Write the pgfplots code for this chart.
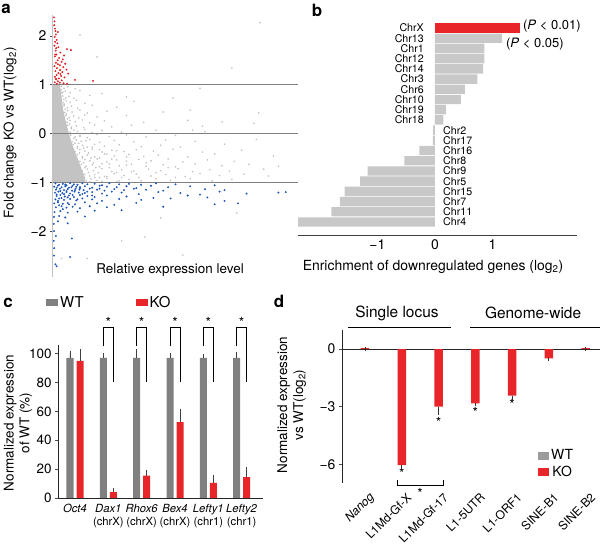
\documentclass[border=0pt]{standalone}
\usepackage{fontspec}
\setmainfont{TeX Gyre Heros}
\usepackage{pgfplots}
\pgfplotsset{compat=1.18}

\definecolor{ptgray}{RGB}{195,195,195}
\definecolor{ptblue}{RGB}{30,85,185}
\definecolor{ptred}{RGB}{232,32,38}
\definecolor{refline}{RGB}{128,128,128}
\definecolor{bargray}{RGB}{200,200,200}
\definecolor{kored}{RGB}{232,38,42}
\definecolor{wtgray}{RGB}{128,128,128}
\definecolor{wtpale}{RGB}{155,155,155}

\newcommand\fs[2]{\fontsize{#1}{#2}\selectfont}

\pgfplotsset{
  every axis/.append style={/pgf/number format/assume math mode=true},
  panelaxis/.style={scale only axis, anchor=south west,
    axis line style={line width=0.8bp, black!85},
    tick style={line width=0.7bp, black!70}},
}

\begin{document}
\begin{tikzpicture}
\path[use as bounding box] (0bp,0bp) rectangle (600bp,545bp);

% ---------------- a: scatter ----------------
\begin{axis}[panelaxis,
  at={(53bp,268bp)}, width=245bp, height=262bp,
  xmin=0, xmax=1, ymin=-2.94, ymax=2.43,
  axis lines*=left,
  x axis line style={draw=none}, y axis line style={draw=ptgray, line width=1bp},
  xtick=\empty, ytick={-2,-1,0,1,2}, yticklabels={−2,−1,0,1,2},
  tick align=outside, major tick length=3bp,
  yticklabel style={font=\fs{14}{16}},
  xlabel={Relative expression level},
  ylabel={Fold change KO vs WT(log\textsubscript{2})},
  every axis x label/.style={at={(axis description cs:0.478,0.027)}, anchor=center, font=\fs{13.5}{16}},
  every axis y label/.style={at={(axis description cs:-0.175,0.55)}, rotate=90, anchor=center, font=\fs{13.5}{16}},
]
% dense core of unchanged genes
\addplot[fill=ptgray, draw=none] coordinates {
  (0,1) (0.029,1) (0.035,0.75) (0.041,0.5) (0.052,0.25) (0.065,0) (0.08,-0.25)
  (0.1,-0.5) (0.118,-0.75) (0.13,-0.9) (0.13,-1) (0,-1)} -- cycle;
% unchanged genes, sparse part
\addplot[only marks, mark=*, mark size=0.6bp, color=ptgray] coordinates {
  (0.035,0.97) (0.045,0.93) (0.06,0.96) (0.09,0.92)
  (0.036,0.83) (0.05,0.87) (0.07,0.84) (0.11,0.88) (0.2,0.82)
  (0.04,0.77) (0.052,0.73) (0.065,0.76) (0.085,0.72) (0.15,0.78)
  (0.042,0.63) (0.055,0.67) (0.07,0.64) (0.095,0.68) (0.13,0.62) (0.33,0.66)
  (0.045,0.57) (0.058,0.53) (0.075,0.56) (0.1,0.52) (0.16,0.58) (0.26,0.54)
  (0.048,0.43) (0.06,0.47) (0.078,0.44) (0.11,0.48) (0.14,0.42) (0.22,0.46) (0.45,0.44)
  (0.052,0.37) (0.066,0.33) (0.085,0.36) (0.105,0.32) (0.13,0.38) (0.18,0.34) (0.3,0.37)
  (0.057,0.23) (0.07,0.27) (0.09,0.24) (0.12,0.28) (0.15,0.22) (0.21,0.26) (0.37,0.23) (0.55,0.27)
  (0.06,0.17) (0.075,0.13) (0.095,0.16) (0.125,0.12) (0.17,0.18) (0.24,0.14) (0.32,0.17)
  (0.07,0.03) (0.085,0.07) (0.1,0.04) (0.13,0.08) (0.16,0.02) (0.2,0.06) (0.28,0.03) (0.42,0.07) (0.62,0.04)
  (0.072,-0.03) (0.09,-0.07) (0.11,-0.04) (0.14,-0.08) (0.18,-0.02) (0.23,-0.06) (0.3,-0.03) (0.38,-0.07) (0.5,-0.04)
  (0.078,-0.17) (0.095,-0.13) (0.115,-0.16) (0.15,-0.12) (0.19,-0.18) (0.25,-0.14) (0.33,-0.17) (0.46,-0.13) (0.58,-0.16) (0.83,-0.12)
  (0.082,-0.23) (0.1,-0.27) (0.12,-0.24) (0.14,-0.28) (0.17,-0.22) (0.21,-0.26) (0.27,-0.23) (0.36,-0.27) (0.44,-0.24) (0.52,-0.28) (0.7,-0.22)
  (0.09,-0.37) (0.11,-0.33) (0.13,-0.36) (0.16,-0.32) (0.2,-0.38) (0.24,-0.34) (0.29,-0.37) (0.34,-0.33) (0.41,-0.36) (0.49,-0.32) (0.61,-0.38) (0.77,-0.34)
  (0.1,-0.43) (0.12,-0.47) (0.14,-0.44) (0.17,-0.48) (0.21,-0.42) (0.25,-0.46) (0.31,-0.43) (0.37,-0.47) (0.43,-0.44) (0.55,-0.48) (0.66,-0.42) (0.9,-0.46)
  (0.11,-0.57) (0.13,-0.53) (0.15,-0.56) (0.18,-0.52) (0.22,-0.58) (0.26,-0.54) (0.3,-0.57) (0.35,-0.53) (0.4,-0.56) (0.47,-0.52) (0.53,-0.58) (0.63,-0.54) (0.74,-0.57)
  (0.115,-0.63) (0.135,-0.67) (0.16,-0.64) (0.19,-0.68) (0.23,-0.62) (0.27,-0.66) (0.32,-0.63) (0.38,-0.67) (0.45,-0.64) (0.5,-0.68) (0.58,-0.62) (0.69,-0.66) (0.8,-0.63) (0.92,-0.67)
  (0.12,-0.77) (0.14,-0.73) (0.165,-0.76) (0.2,-0.72) (0.24,-0.78) (0.28,-0.74) (0.33,-0.77) (0.39,-0.73) (0.44,-0.76) (0.51,-0.72) (0.57,-0.78) (0.64,-0.74) (0.72,-0.77) (0.86,-0.73)
  (0.13,-0.83) (0.15,-0.87) (0.17,-0.84) (0.21,-0.88) (0.25,-0.82) (0.29,-0.86) (0.34,-0.83) (0.4,-0.87) (0.46,-0.84) (0.54,-0.88) (0.6,-0.82) (0.68,-0.86) (0.78,-0.83) (0.88,-0.87)
  (0.135,-0.97) (0.155,-0.93) (0.18,-0.96) (0.22,-0.92) (0.26,-0.98) (0.31,-0.94) (0.36,-0.97) (0.42,-0.93) (0.48,-0.96) (0.56,-0.92) (0.65,-0.97) (0.73,-0.94)
  (0.105,-0.2) (0.125,-0.3) (0.145,-0.4) (0.155,-0.5) (0.165,-0.6) (0.175,-0.7) (0.185,-0.8) (0.19,-0.9) (0.2,-0.98)
  (0.15,-0.99) (0.17,-0.9) (0.145,-0.8) (0.13,-0.7) (0.125,-0.6) (0.12,-0.5) (0.108,-0.4) (0.1,-0.3) (0.09,-0.2)
  (0.085,-0.1) (0.075,0.1) (0.068,0.2) (0.06,0.3) (0.055,0.4) (0.05,0.5) (0.046,0.6) (0.044,0.7) (0.04,0.85) (0.034,0.9)
  (0.2,-0.62) (0.23,-0.7) (0.26,-0.8) (0.28,-0.9) (0.24,-0.52) (0.22,-0.88) (0.3,-0.65) (0.32,-0.78) (0.35,-0.9)
  (0.27,-0.97) (0.19,-0.5) (0.16,-0.28) (0.135,-0.15) (0.11,-0.06) (0.19,-0.33) (0.22,-0.42) (0.26,-0.35) (0.3,-0.48)
  (0.38,-0.6) (0.42,-0.8) (0.5,-0.9) (0.47,-0.7)
  (0.845,2.27) (0.11,2.02) (0.18,1.57) (0.73,1.34) (0.6,0.93) (0.3,0.75) (0.49,0.73) (0.56,0.48)
  (0.69,0.24) (0.82,0.21) (0.61,0.15) (0.84,0.42) (0.57,0.07)
  (0.75,-1.63) (0.44,-1.73) (0.375,-2.12) (0.28,-2.2) (0.53,-2.49) (0.14,-2.56) (0.035,-2.56)};
% downregulated genes
\addplot[only marks, mark=*, mark size=0.75bp, color=ptblue] coordinates {
  (0.01,-1.02) (0.025,-1.05) (0.04,-1.03) (0.055,-1.06) (0.07,-1.02) (0.085,-1.04) (0.1,-1.05) (0.12,-1.02) (0.14,-1.04)
  (0.17,-1.03) (0.2,-1.06) (0.23,-1.02) (0.27,-1.04) (0.31,-1.03) (0.36,-1.05) (0.42,-1.02) (0.5,-1.04)
  (0.005,-1.09) (0.02,-1.07) (0.035,-1.1) (0.05,-1.08) (0.065,-1.11) (0.08,-1.07) (0.095,-1.09) (0.11,-1.1) (0.13,-1.08)
  (0.16,-1.11) (0.19,-1.07) (0.22,-1.09) (0.26,-1.1) (0.3,-1.08) (0.34,-1.12) (0.4,-1.07) (0.47,-1.1) (0.56,-1.08) (0.66,-1.06)
  (0.012,-1.15) (0.028,-1.13) (0.045,-1.16) (0.06,-1.14) (0.078,-1.17) (0.092,-1.13) (0.108,-1.15) (0.125,-1.16) (0.15,-1.13)
  (0.18,-1.15) (0.21,-1.17) (0.25,-1.14) (0.29,-1.16) (0.33,-1.13) (0.38,-1.15) (0.45,-1.17) (0.62,-1.14) (0.7,-1.16)
  (0.008,-1.21) (0.022,-1.19) (0.038,-1.22) (0.055,-1.2) (0.07,-1.23) (0.088,-1.19) (0.105,-1.21) (0.13,-1.22) (0.16,-1.2)
  (0.2,-1.23) (0.24,-1.19) (0.28,-1.21) (0.35,-1.24) (0.43,-1.2) (0.52,-1.22) (0.6,-1.25) (0.68,-1.19) (0.79,-1.23) (0.92,-1.21) (0.95,-1.2)
  (0.015,-1.28) (0.03,-1.26) (0.048,-1.29) (0.065,-1.27) (0.085,-1.3) (0.11,-1.26) (0.14,-1.28) (0.17,-1.3) (0.22,-1.27)
  (0.3,-1.29) (0.41,-1.32) (0.55,-1.27) (0.63,-1.31)
  (0.01,-1.35) (0.025,-1.33) (0.045,-1.36) (0.07,-1.34) (0.095,-1.37) (0.12,-1.33) (0.16,-1.35) (0.2,-1.38) (0.27,-1.34)
  (0.36,-1.36) (0.48,-1.33) (0.7,-1.38)
  (0.005,-1.43) (0.02,-1.41) (0.04,-1.44) (0.06,-1.42) (0.09,-1.45) (0.13,-1.41) (0.18,-1.43) (0.25,-1.46) (0.34,-1.42) (0.66,-1.45) (0.755,-1.43)
  (0.012,-1.51) (0.035,-1.49) (0.055,-1.52) (0.08,-1.5) (0.11,-1.53) (0.15,-1.49) (0.22,-1.51) (0.45,-1.5)
  (0.006,-1.61) (0.03,-1.59) (0.06,-1.62) (0.1,-1.6) (0.17,-1.58) (0.28,-1.57)
  (0.004,-1.71) (0.025,-1.69) (0.05,-1.72) (0.13,-1.7)
  (0.003,-1.85) (0.02,-1.8) (0.06,-1.84) (0.004,-2.0) (0.012,-2.1) (0.003,-2.2) (0.077,-2.15) (0.005,-2.35)
  (0.004,-2.5) (0.07,-2.53) (0.01,-2.68) (0.015,-2.72)
  (0.015,-1.11) (0.03,-1.18) (0.045,-1.24) (0.06,-1.31) (0.02,-1.38) (0.075,-1.1) (0.09,-1.16) (0.05,-1.04)
  (0.035,-1.32) (0.08,-1.26) (0.1,-1.35) (0.065,-1.45) (0.04,-1.55) (0.025,-1.47) (0.015,-1.25) (0.055,-1.18)
  (0.11,-1.12) (0.14,-1.19) (0.12,-1.24) (0.16,-1.27) (0.19,-1.13)};
% upregulated genes
\addplot[only marks, mark=*, mark size=0.75bp, color=ptred] coordinates {
  (0.004,2.38) (0.006,2.3) (0.005,2.22) (0.008,2.15) (0.01,2.1) (0.02,2.08) (0.012,2.03) (0.007,1.98)
  (0.015,1.92) (0.009,1.88) (0.018,1.85) (0.006,1.8) (0.022,1.77) (0.057,1.73) (0.073,1.71) (0.011,1.7)
  (0.03,1.66) (0.014,1.62) (0.045,1.6) (0.008,1.58) (0.025,1.55) (0.04,1.52) (0.019,1.5) (0.035,1.47)
  (0.012,1.45) (0.05,1.43) (0.028,1.4) (0.006,1.38) (0.042,1.36) (0.016,1.34) (0.029,1.3) (0.055,1.31)
  (0.01,1.28) (0.038,1.26) (0.022,1.24) (0.062,1.23) (0.015,1.2) (0.033,1.18) (0.008,1.16) (0.047,1.15)
  (0.024,1.13) (0.013,1.11) (0.09,1.1) (0.036,1.09) (0.02,1.07) (0.163,1.08) (0.007,1.05) (0.028,1.04)
  (0.043,1.03) (0.016,1.02) (0.058,1.02) (0.012,1.12) (0.03,1.22) (0.02,1.42) (0.009,1.62) (0.013,1.75)};
\addplot[refline, line width=1.1bp] coordinates {(0,1) (1,1)};
\addplot[refline, line width=1.1bp] coordinates {(0,0) (1,0)};
\addplot[refline, line width=1.1bp] coordinates {(0,-1) (1,-1)};
\end{axis}

% ---------------- b: enrichment by chromosome ----------------
\begin{axis}[panelaxis,
  at={(298bp,309bp)}, width=279bp, height=214bp,
  xmin=-2.38, xmax=2.47, ymin=-1.37, ymax=19.59,
  axis x line*=bottom, axis y line=none,
  x axis line style={line width=1bp, black!75},
  xtick={-1,0,1}, xticklabels={−1,0,1}, ytick=\empty,
  major tick length=0pt,
  xticklabel style={font=\fs{14}{16}},
  xlabel={Enrichment of downregulated genes (log\textsubscript{2})},
  every axis x label/.style={at={(axis description cs:0.484,-0.145)}, anchor=center, font=\fs{14}{16}},
  clip=false,
]
\addplot[xbar, bar width=9.4bp, bar shift=0pt, fill=kored, draw=none] coordinates {(1.48,19)};
\addplot[xbar, bar width=9.4bp, bar shift=0pt, fill=bargray, draw=none] coordinates {
  (1.17,18) (0.86,17) (0.86,16) (0.84,15) (0.74,14) (0.52,13) (0.45,12) (0.19,11) (0.145,10)
  (-0.03,9) (-0.035,8) (-0.27,7) (-0.53,6) (-1.17,5) (-1.30,4) (-1.57,3) (-1.65,2) (-1.80,1) (-2.38,0)};
\begin{scope}[every node/.style={inner sep=0pt, font=\fs{10.7}{12}}]
\node[anchor=east] at (axis cs:-0.19,19) {ChrX};
\node[anchor=east] at (axis cs:-0.19,18) {Chr13};
\node[anchor=east] at (axis cs:-0.19,17) {Chr1};
\node[anchor=east] at (axis cs:-0.19,16) {Chr12};
\node[anchor=east] at (axis cs:-0.19,15) {Chr14};
\node[anchor=east] at (axis cs:-0.19,14) {Chr3};
\node[anchor=east] at (axis cs:-0.19,13) {Chr6};
\node[anchor=east] at (axis cs:-0.19,12) {Chr10};
\node[anchor=east] at (axis cs:-0.19,11) {Chr19};
\node[anchor=east] at (axis cs:-0.19,10) {Chr18};
\node[anchor=west] at (axis cs:0.14,9) {Chr2};
\node[anchor=west] at (axis cs:0.14,8) {Chr17};
\node[anchor=west] at (axis cs:0.14,7) {Chr16};
\node[anchor=west] at (axis cs:0.14,6) {Chr8};
\node[anchor=west] at (axis cs:0.14,5) {Chr9};
\node[anchor=west] at (axis cs:0.14,4) {Chr5};
\node[anchor=west] at (axis cs:0.14,3) {Chr15};
\node[anchor=west] at (axis cs:0.14,2) {Chr7};
\node[anchor=west] at (axis cs:0.14,1) {Chr11};
\node[anchor=west] at (axis cs:0.14,0) {Chr4};
\end{scope}
\node[anchor=west, inner sep=0pt, font=\fs{13}{15}] at (axis cs:1.53,19.2) {(\textit{P} < 0.01)};
\node[anchor=west, inner sep=0pt, font=\fs{13}{15}] at (axis cs:1.235,17.45) {(\textit{P} < 0.05)};
\end{axis}

% ---------------- c: qPCR, % of WT ----------------
\begin{axis}[panelaxis,
  at={(58bp,47bp)}, width=205bp, height=153bp,
  xmin=0.49, xmax=6.64, ymin=0, ymax=106,
  axis lines*=left, clip=false,
  ytick={0,20,40,60,80,100},
  xtick={1,2,3,4,5,6},
  xticklabels={\textit{Oct4}, {\textit{Dax1}\\(chrX)}, {\textit{Rhox6}\\(chrX)}, {\textit{Bex4}\\(chrX)}, {\textit{Lefty1}\\(chr1)}, {\textit{Lefty2}\\(chr1)}},
  xticklabel style={align=center, font=\fs{11.3}{13}},
  yticklabel style={font=\fs{13.5}{16}},
  xtick style={draw=none}, tick align=outside, major tick length=3bp,
  ylabel={Normalized expression\\of WT (\%)},
  every axis y label/.style={at={(axis description cs:-0.195,0.49)}, rotate=90, anchor=center, align=center, font=\fs{13.5}{16}},
  ybar, bar width=7bp,
  legend columns=2,
  legend image code/.code={\fill[#1] (0bp,-3.5bp) rectangle (12bp,3.5bp);},
  legend style={draw=none, fill=none, at={(axis description cs:-0.073,1.275)}, anchor=west,
    font=\fs{15}{17}, /tikz/every even column/.append style={column sep=50bp}},
]
\addplot[fill=wtgray, draw=none, bar shift=-5bp,
  error bars/.cd, y dir=plus, y explicit,
  error bar style={line width=0.8bp, black!75}, error mark options={line width=0.8bp, black!75, mark size=2bp}]
  coordinates {(1,97) +- (0,3.5) (2,97) +- (0,2) (3,97) +- (0,5) (4,97) +- (0,2) (5,97) +- (0,1.2) (6,97) +- (0,3)};
\addlegendentry{WT}
\addplot[fill=kored, draw=none, bar shift=5bp,
  error bars/.cd, y dir=plus, y explicit,
  error bar style={line width=0.8bp, black!75}, error mark options={line width=0.8bp, black!75, mark size=2bp}]
  coordinates {(1,95) +- (0,7) (2,4) +- (0,1.5) (3,15.5) +- (0,2.3) (4,52.5) +- (0,8) (5,10.5) +- (0,4) (6,14.5) +- (0,5.5)};
\addlegendentry{KO}
\draw[line width=0.7bp] (axis cs:1.85,105) -- (axis cs:1.85,118) -- (axis cs:2.15,118) -- (axis cs:2.15,80.5);
\draw[line width=0.7bp] (axis cs:2.85,105) -- (axis cs:2.85,118) -- (axis cs:3.15,118) -- (axis cs:3.15,80.5);
\draw[line width=0.7bp] (axis cs:3.85,105) -- (axis cs:3.85,118) -- (axis cs:4.15,118) -- (axis cs:4.15,80.5);
\draw[line width=0.7bp] (axis cs:4.85,105) -- (axis cs:4.85,118) -- (axis cs:5.15,118) -- (axis cs:5.15,80.5);
\draw[line width=0.7bp] (axis cs:5.85,105) -- (axis cs:5.85,118) -- (axis cs:6.15,118) -- (axis cs:6.15,80.5);
\begin{scope}[every node/.style={font=\fs{14}{15}, inner sep=0pt}]
\node at (axis cs:2,121.5) {*};
\node at (axis cs:3,121.5) {*};
\node at (axis cs:4,121.5) {*};
\node at (axis cs:5,121.5) {*};
\node at (axis cs:6,121.5) {*};
\end{scope}
\end{axis}

% ---------------- d: transposable elements, log2 ----------------
\begin{axis}[panelaxis,
  at={(342bp,62bp)}, width=258bp, height=153bp,
  xmin=-0.625, xmax=6.39, ymin=-6.98, ymax=0.99,
  axis lines*=left, clip=false,
  x axis line style={draw=none},
  ytick={-6,-3,0}, yticklabels={−6,−3,0},
  xtick={0,1,2,3,4,5,6},
  xticklabels={\textit{Nanog}, L1Md-Gf-X, L1Md-Gf-17, L1-5UTR, L1-ORF1, SINE-B1, SINE-B2},
  xticklabel style={rotate=45, anchor=east, yshift=-12bp, xshift=2bp, font=\fs{12}{14}},
  yticklabel style={font=\fs{14}{16}},
  xtick style={draw=none}, tick align=outside, major tick length=3bp,
  ylabel={Normalized expression\\vs WT(log\textsubscript{2})},
  every axis y label/.style={at={(axis description cs:-0.195,0.51)}, rotate=90, anchor=center, align=center, font=\fs{13.5}{16}},
  ybar, bar width=8.5bp,
  legend image code/.code={\fill[#1] (0bp,-4bp) rectangle (11bp,4bp);},
  legend style={draw=none, fill=none, at={(axis description cs:0.748,0.245)}, anchor=north west,
    font=\fs{14}{16}, row sep=1bp},
]
\draw[line width=0.8bp, black!85] (axis cs:-0.625,0) -- (axis cs:6.39,0);
\addlegendimage{fill=wtpale, draw=none}
\addlegendentry{WT}
\addplot[fill=kored, draw=none, bar shift=0pt,
  error bars/.cd, y dir=minus, y explicit,
  error bar style={line width=0.8bp, black!80}, error mark options={line width=0.8bp, black!80, mark size=1.8bp}]
  coordinates {(0,0.05) +- (0,0.04) (1,-6.05) +- (0,0.08) (2,-3.0) +- (0,0.35) (3,-2.83) +- (0,0.06)
               (4,-2.43) +- (0,0.14) (5,-0.49) +- (0,0.05) (6,0.05) +- (0,0.04)};
\addlegendentry{KO}
\begin{scope}[every node/.style={font=\fs{14}{15}, inner sep=0pt}]
\node at (axis cs:1,-6.5) {*};
\node at (axis cs:2,-3.8) {*};
\node at (axis cs:3,-3.3) {*};
\node at (axis cs:4,-2.9) {*};
\node at (axis cs:1.5,-7.5) {*};
\end{scope}
\draw[line width=0.7bp] (axis cs:0.88,-6.82) -- (axis cs:0.88,-7.08) -- (axis cs:2.12,-7.08) -- (axis cs:2.12,-6.82);
\draw[line width=0.8bp] (axis cs:-0.46,1.146) -- (axis cs:2.34,1.146);
\draw[line width=0.8bp] (axis cs:2.85,1.146) -- (axis cs:6.39,1.146);
\node[font=\fs{15.5}{18}] at (axis cs:0.87,1.875) {Single locus};
\node[font=\fs{15.5}{18}] at (axis cs:4.57,1.875) {Genome-wide};
\end{axis}

% panel letters
\node[font=\bfseries\fs{17}{20}] at (6bp,536bp) {a};
\node[font=\bfseries\fs{17}{20}] at (317bp,535bp) {b};
\node[font=\bfseries\fs{17}{20}] at (8bp,242bp) {c};
\node[font=\bfseries\fs{17}{20}] at (279bp,244bp) {d};
\end{tikzpicture}
\end{document}
